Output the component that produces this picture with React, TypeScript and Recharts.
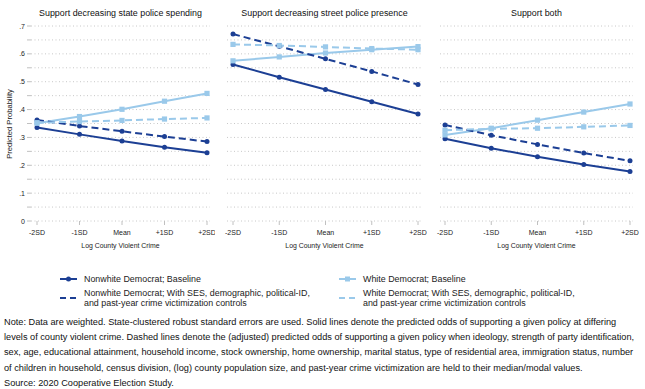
import React from 'react';
import { LineChart, Line, XAxis, YAxis, CartesianGrid } from 'recharts';

const categories = ['-2SD', '-1SD', 'Mean', '+1SD', '+2SD'];
const yTicks = [0, 0.05, 0.1, 0.15, 0.2, 0.25, 0.3, 0.35, 0.4, 0.45, 0.5, 0.55, 0.6, 0.65, 0.7];
const majorTicks = [0, 0.1, 0.2, 0.3, 0.4, 0.5, 0.6, 0.7];

const titles = [
  'Support decreasing state police spending',
  'Support decreasing street police presence',
  'Support both',
];

// state police spending
const nonwhiteBase1 = [0.336, 0.311, 0.287, 0.265, 0.245];
const nonwhiteCtrl1 = [0.363, 0.341, 0.322, 0.303, 0.285];
const whiteBase1 = [0.351, 0.375, 0.401, 0.43, 0.458];
const whiteCtrl1 = [0.353, 0.357, 0.361, 0.366, 0.37];

// street police presence
const nonwhiteBase2 = [0.562, 0.516, 0.472, 0.428, 0.384];
const nonwhiteCtrl2 = [0.671, 0.627, 0.582, 0.537, 0.49];
const whiteBase2 = [0.575, 0.589, 0.603, 0.615, 0.626];
const whiteCtrl2 = [0.634, 0.63, 0.625, 0.619, 0.615];

// both
const nonwhiteBase3 = [0.295, 0.261, 0.231, 0.203, 0.178];
const nonwhiteCtrl3 = [0.345, 0.308, 0.275, 0.244, 0.216];
const whiteBase3 = [0.309, 0.333, 0.362, 0.391, 0.42];
const whiteCtrl3 = [0.326, 0.331, 0.333, 0.338, 0.343];

const legendLabels = [
  'Nonwhite Democrat; Baseline',
  'White Democrat; Baseline',
  'Nonwhite Democrat; With SES, demographic, political-ID,\nand past-year crime victimization controls',
  'White Democrat; With SES, demographic, political-ID,\nand past-year crime victimization controls',
];

const noteLines = [
  'Note: Data are weighted. State-clustered robust standard errors are used. Solid lines denote the predicted odds of supporting a given policy at differing',
  'levels of county violent crime. Dashed lines denote the (adjusted) predicted odds of supporting a given policy when ideology, strength of party identification,',
  'sex, age, educational attainment, household income, stock ownership, home ownership, marital status, type of residential area, immigration status, number',
  'of children in household, census division, (log) county population size, and past-year crime victimization are held to their median/modal values.',
  'Source: 2020 Cooperative Election Study.',
];

const DARK = '#1c3f94';
const LIGHT = '#9ac9ea';
const FONT = '"Liberation Sans", Arial, sans-serif';

const buildRows = (nb: number[], nc: number[], wb: number[], wc: number[]) =>
  categories.map((c, i) => ({ x: c, nb: nb[i], wb: wb[i], nc: nc[i], wc: wc[i] }));

const panels = [
  { rows: buildRows(nonwhiteBase1, nonwhiteCtrl1, whiteBase1, whiteCtrl1), left: 0, width: 215, mLeft: 0, mRight: 5, yAxis: true, pad: { left: 6, right: 3 } },
  { rows: buildRows(nonwhiteBase2, nonwhiteCtrl2, whiteBase2, whiteCtrl2), left: 222, width: 205, mLeft: 5, mRight: 5, yAxis: false, pad: { left: 6, right: 4 } },
  { rows: buildRows(nonwhiteBase3, nonwhiteCtrl3, whiteBase3, whiteCtrl3), left: 435, width: 205, mLeft: 5, mRight: 7, yAxis: false, pad: { left: 5, right: 3 } },
];

const SquareDot = (props: any) => {
  const { cx, cy, index } = props;
  if (cx == null || cy == null) return <g key={index} />;
  return <rect key={index} x={cx - 2.6} y={cy - 2.6} width={5.2} height={5.2} fill={LIGHT} />;
};

const YTick = (props: any) => {
  const { x, y, payload } = props;
  const v = payload.value;
  if (!majorTicks.some((m) => Math.abs(m - v) < 1e-6)) return <g />;
  const label = v === 0 ? '0' : '.' + Math.round(v * 10);
  return (
    <text x={x} y={y} dy={2.5} textAnchor="end" fontSize={7} fill="#222" fontFamily={FONT}>
      {label}
    </text>
  );
};

const Panel = ({ p, title }: { p: any; title: string }) => (
  <div style={{ position: 'absolute', left: p.left, top: 0, width: p.width, height: 260 }}>
    <LineChart
      width={p.width}
      height={260}
      data={p.rows}
      margin={{ top: 26, right: p.mRight, bottom: 9, left: p.mLeft }}
    >
      <CartesianGrid vertical={false} stroke="#c8c8c8" strokeDasharray="1 2.5" />
      <XAxis
        dataKey="x"
        axisLine={false}
        tickSize={4}
        tickLine={{ stroke: '#c0c0c0' }}
        tickMargin={5}
        tick={{ fontSize: 7, fill: '#222', fontFamily: FONT }}
        padding={p.pad}
        interval={0}
        height={30}
        label={{ value: 'Log County Violent Crime', position: 'insideBottom', offset: 3, fontSize: 6.9, fill: '#222', fontFamily: FONT }}
      />
      <YAxis
        hide={!p.yAxis}
        width={31}
        domain={[0, 0.7]}
        ticks={yTicks}
        interval={0}
        axisLine={false}
        tickSize={4}
        tickMargin={2}
        tickLine={{ stroke: '#c0c0c0' }}
        tick={<YTick />}
      />
      <Line dataKey="nb" stroke={DARK} strokeWidth={2} dot={{ r: 2.5, fill: DARK, stroke: DARK, strokeWidth: 0 }} isAnimationActive={false} />
      <Line dataKey="wb" stroke={LIGHT} strokeWidth={2} dot={<SquareDot />} isAnimationActive={false} />
      <Line dataKey="nc" stroke={DARK} strokeWidth={2} strokeDasharray="7 4" dot={{ r: 2.5, fill: DARK, stroke: DARK, strokeWidth: 0 }} isAnimationActive={false} />
      <Line dataKey="wc" stroke={LIGHT} strokeWidth={2} strokeDasharray="7 4" dot={<SquareDot />} isAnimationActive={false} />
    </LineChart>
    <div
      style={{
        position: 'absolute',
        top: 8,
        left: (p.yAxis ? 31 : p.mLeft) - 20,
        right: p.mRight - 20,
        textAlign: 'center',
        fontSize: 8.9,
        color: '#111',
        fontFamily: FONT,
        whiteSpace: 'nowrap',
      }}
    >
      {title}
    </div>
  </div>
);

const LegendIcon = ({ color, dashed, square }: { color: string; dashed: boolean; square: boolean }) => (
  <svg width={17} height={8} style={{ display: 'block' }}>
    <line x1={0} y1={4} x2={17} y2={4} stroke={color} strokeWidth={2} strokeDasharray={dashed ? '6 4' : undefined} />
    {!dashed && (square ? <rect x={6} y={1.5} width={5} height={5} fill={color} /> : <circle cx={8.5} cy={4} r={2.5} fill={color} />)}
  </svg>
);

const legendItems = [
  { color: DARK, dashed: false, square: false, left: 60, top: 274 },
  { color: LIGHT, dashed: false, square: true, left: 339, top: 274 },
  { color: DARK, dashed: true, square: false, left: 60, top: 288 },
  { color: LIGHT, dashed: true, square: true, left: 339, top: 288 },
];

export default function App() {
  return (
    <div style={{ position: 'absolute', left: 0, top: 0, width: 645, height: 389, background: '#fff', fontFamily: FONT, overflow: 'hidden' }}>
      {panels.map((p, i) => (
        <Panel key={i} p={p} title={titles[i]} />
      ))}
      <div
        style={{
          position: 'absolute',
          left: 3,
          top: 124,
          transform: 'translate(-50%, -50%) rotate(-90deg)',
          transformOrigin: 'center',
          fontSize: 7.6,
          color: '#222',
          whiteSpace: 'nowrap',
          marginLeft: 6,
        }}
      >
        Predicted Probability
      </div>
      {legendItems.map((it, i) => (
        <div key={i} style={{ position: 'absolute', left: it.left, top: it.top, display: 'flex', alignItems: 'center' }}>
          <LegendIcon color={it.color} dashed={it.dashed} square={it.square} />
          <div style={{ marginLeft: 7, fontSize: 8.9, lineHeight: '10px', color: '#222', whiteSpace: 'pre' }}>{legendLabels[i]}</div>
        </div>
      ))}
      <div style={{ position: 'absolute', left: 4, top: 315, fontSize: 9.2, lineHeight: '15.2px', color: '#111', whiteSpace: 'nowrap' }}>
        {noteLines.map((l, i) => (
          <div key={i}>{l}</div>
        ))}
      </div>
    </div>
  );
}
